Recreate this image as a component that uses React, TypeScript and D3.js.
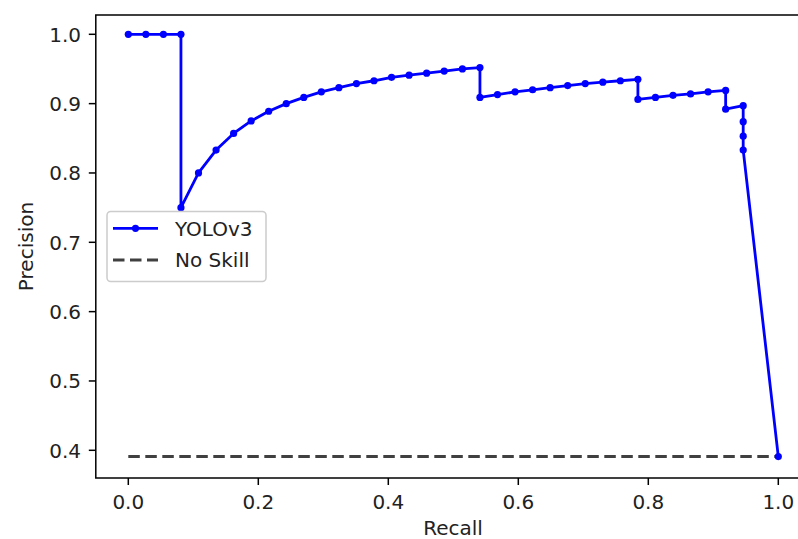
import React from "react";
import * as d3 from "d3";

const recall: number[] = [
  0, 0.027, 0.054, 0.081, 0.081, 0.108, 0.135, 0.162, 0.189, 0.216, 0.243, 0.27,
  0.297, 0.324, 0.351, 0.378, 0.405, 0.432, 0.459, 0.486, 0.514, 0.541, 0.541,
  0.568, 0.595, 0.622, 0.649, 0.676, 0.703, 0.73, 0.757, 0.784, 0.784, 0.811,
  0.838, 0.865, 0.892, 0.919, 0.919, 0.946, 0.946, 0.946, 0.946, 1.0,
];
const precision: number[] = [
  1, 1, 1, 1, 0.75, 0.8, 0.833, 0.857, 0.875, 0.889, 0.9, 0.909, 0.917, 0.923,
  0.929, 0.933, 0.938, 0.941, 0.944, 0.947, 0.95, 0.952, 0.909, 0.913, 0.917,
  0.92, 0.923, 0.926, 0.929, 0.931, 0.933, 0.935, 0.906, 0.909, 0.912, 0.914,
  0.917, 0.919, 0.892, 0.897, 0.874, 0.853, 0.833, 0.391,
];
const noSkillX: number[] = [0, 1];
const noSkillY: number[] = [0.391, 0.391];
const xTicks: number[] = [0, 0.2, 0.4, 0.6, 0.8, 1.0];
const yTicks: number[] = [0.4, 0.5, 0.6, 0.7, 0.8, 0.9, 1.0];
const seriesNames: string[] = ["YOLOv3", "No Skill"];

const W = 798;
const H = 539;
const FONT = "'DejaVu Sans', sans-serif";
const FS = 20;
const TXT = "#222";

export default function App() {
  const x = d3.scaleLinear().domain([0, 1]).range([128.3, 778.3]);
  const y = d3.scaleLinear().domain([0.4, 1.0]).range([450.3, 34.3]);
  const left = x(-0.05);
  const right = x(1.05);
  const top = 15;
  const bottom = 478;

  const pts = recall.map((r, i) => [r, precision[i]] as [number, number]);
  const line = d3
    .line<[number, number]>()
    .x((d) => x(d[0]))
    .y((d) => y(d[1]));
  const nsPts = noSkillX.map((v, i) => [v, noSkillY[i]] as [number, number]);

  return (
    <div style={{ position: "absolute", left: 0, top: 0 }}>
      <svg width={W} height={H} style={{ display: "block", background: "#fff" }}>
        <rect x={0} y={0} width={W} height={H} fill="#fff" />
        {/* no skill */}
        <path
          d={line(nsPts) || ""}
          fill="none"
          stroke="#404040"
          strokeWidth={3}
          strokeDasharray="11.5,5.5"
        />
        {/* PR curve */}
        <path d={line(pts) || ""} fill="none" stroke="#0000ff" strokeWidth={2.8} strokeLinejoin="round" />
        {pts.map((p, i) => (
          <circle key={i} cx={x(p[0])} cy={y(p[1])} r={3.6} fill="#0000ff" />
        ))}
        {/* spines */}
        <rect
          x={left}
          y={top}
          width={right - left}
          height={bottom - top}
          fill="none"
          stroke="#000"
          strokeWidth={1.5}
        />
        {/* x ticks */}
        {xTicks.map((t) => (
          <g key={"x" + t}>
            <line x1={x(t)} x2={x(t)} y1={bottom} y2={bottom + 7} stroke="#000" strokeWidth={1.5} />
            <text
              x={x(t)}
              y={508.5}
              textAnchor="middle"
              fontFamily={FONT}
              fontSize={FS}
              fill={TXT}
            >
              {t.toFixed(1)}
            </text>
          </g>
        ))}
        {/* y ticks */}
        {yTicks.map((t) => (
          <g key={"y" + t}>
            <line x1={left - 7} x2={left} y1={y(t)} y2={y(t)} stroke="#000" strokeWidth={1.5} />
            <text
              x={81}
              y={y(t) + 7.3}
              textAnchor="end"
              fontFamily={FONT}
              fontSize={FS}
              fill={TXT}
            >
              {t.toFixed(1)}
            </text>
          </g>
        ))}
        {/* axis labels */}
        <text x={453} y={535} textAnchor="middle" fontFamily={FONT} fontSize={FS} fill={TXT}>
          Recall
        </text>
        <text
          transform={`translate(33, ${(top + bottom) / 2}) rotate(-90)`}
          textAnchor="middle"
          fontFamily={FONT}
          fontSize={FS}
          fill={TXT}
        >
          Precision
        </text>
        {/* legend */}
        <rect
          x={107}
          y={211.5}
          width={159}
          height={70}
          rx={3.7}
          fill="#fff"
          fillOpacity={0.8}
          stroke="#cccccc"
          strokeWidth={1.5}
        />
        <line x1={113} x2={158} y1={228.3} y2={228.3} stroke="#0000ff" strokeWidth={2.8} />
        <circle cx={135.5} cy={228.3} r={3.6} fill="#0000ff" />
        <text x={175} y={235.6} fontFamily={FONT} fontSize={FS} fill={TXT}>
          {seriesNames[0]}
        </text>
        <line
          x1={113}
          x2={158}
          y1={260}
          y2={260}
          stroke="#404040"
          strokeWidth={3}
          strokeDasharray="11.5,5.5"
        />
        <text x={175} y={267.3} fontFamily={FONT} fontSize={FS} fill={TXT}>
          {seriesNames[1]}
        </text>
      </svg>
    </div>
  );
}
